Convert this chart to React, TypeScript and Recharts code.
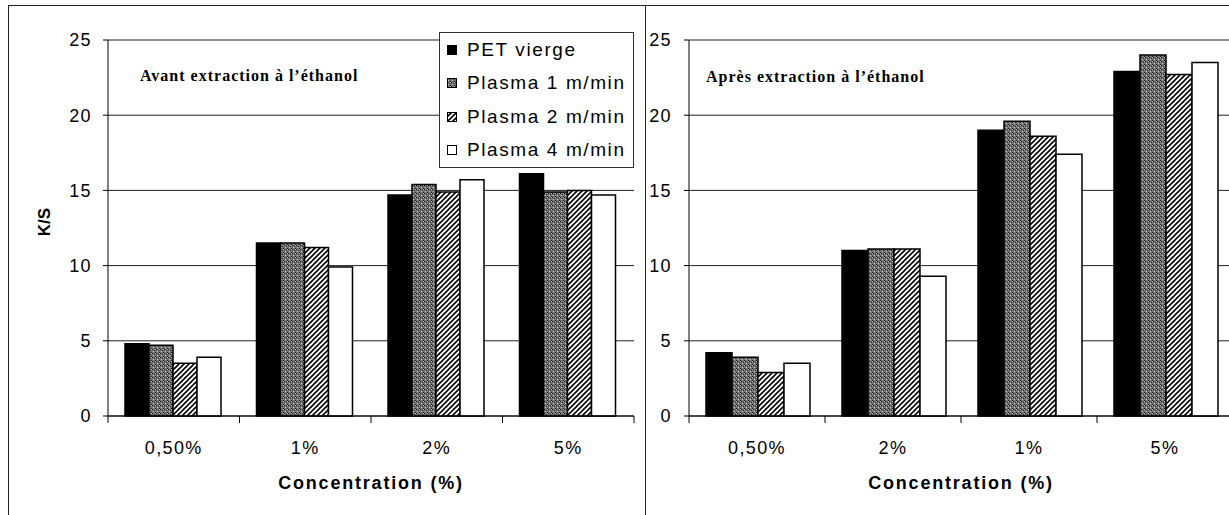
import React from 'react';
import { BarChart, Bar, XAxis, YAxis, CartesianGrid, Legend } from 'recharts';

const categoriesBefore = ['0,50%', '1%', '2%', '5%'];
const petBefore = [4.8, 11.5, 14.7, 16.1];
const plasma1Before = [4.7, 11.5, 15.4, 14.9];
const plasma2Before = [3.5, 11.2, 14.9, 15.0];
const plasma4Before = [3.9, 9.9, 15.7, 14.7];

const categoriesAfter = ['0,50%', '2%', '1%', '5%'];
const petAfter = [4.2, 11.0, 19.0, 22.9];
const plasma1After = [3.9, 11.1, 19.6, 24.0];
const plasma2After = [2.9, 11.1, 18.6, 22.7];
const plasma4After = [3.5, 9.3, 17.4, 23.5];

const yTicks = [0, 5, 10, 15, 20, 25];
const seriesNames = ['PET vierge', 'Plasma 1 m/min', 'Plasma 2 m/min', 'Plasma 4 m/min'];
const seriesKeys = ['pet', 'p1', 'p2', 'p4'];
const seriesFills = ['#000000', 'url(#stipple)', 'url(#hatch)', '#ffffff'];

const buildRows = (cats: string[], a: number[], b: number[], c: number[], d: number[]) =>
  cats.map((cat, i) => ({ cat, pet: a[i], p1: b[i], p2: c[i], p4: d[i] }));

const rowsBefore = buildRows(categoriesBefore, petBefore, plasma1Before, plasma2Before, plasma4Before);
const rowsAfter = buildRows(categoriesAfter, petAfter, plasma1After, plasma2After, plasma4After);

const SANS = '"Liberation Sans", Arial, sans-serif';
const SERIF = '"Liberation Serif", "Times New Roman", serif';

const makeXTick = (bandWidth: number, count: number) => (props: any) => {
  const { x, y, payload, index } = props;
  const half = bandWidth / 2;
  return (
    <g>
      <line x1={x - half} y1={y} x2={x - half} y2={y + 7} stroke="#000" strokeWidth={1} />
      {index === count - 1 && (
        <line x1={x + half} y1={y} x2={x + half} y2={y + 7} stroke="#000" strokeWidth={1} />
      )}
      <text x={x} y={y + 38} textAnchor="middle" fontFamily={SANS} fontSize={18} letterSpacing={1.4} fill="#000">
        {payload.value}
      </text>
    </g>
  );
};

const LegendBox = () => (
  <div
    style={{
      background: '#fff',
      border: '1px solid #333',
      width: 195,
      height: 136,
      boxSizing: 'border-box',
      paddingLeft: 7,
      fontFamily: SANS,
      fontSize: 19,
      letterSpacing: 1.6,
      color: '#000',
    }}
  >
    {seriesNames.map((n, i) => (
      <div key={n} style={{ height: 33.5, display: 'flex', alignItems: 'center', whiteSpace: 'nowrap' }}>
        <svg width={10} height={10} style={{ marginRight: 10, flex: 'none' }}>
          <rect x={0.5} y={0.5} width={9} height={9} fill={seriesFills[i]} stroke="#000" strokeWidth={1} />
        </svg>
        <span>{n}</span>
      </div>
    ))}
  </div>
);

const yTickStyle = { fontFamily: SANS, fontSize: 18, fill: '#000', letterSpacing: 1.4 };

const Panel = ({
  rows,
  width,
  marginLeft,
  yWidth,
  marginRight,
  tickMargin,
  withLegend,
}: any) => {
  const plotWidth = width - marginLeft - yWidth - marginRight;
  const band = plotWidth / rows.length;
  return (
    <BarChart
      width={width}
      height={510}
      data={rows}
      margin={{ top: 35, right: marginRight, bottom: 19, left: marginLeft }}
      barCategoryGap={17}
      barGap={0}
    >
      <CartesianGrid vertical={false} stroke="#222" strokeWidth={1} />
      <XAxis
        dataKey="cat"
        height={80}
        tickLine={false}
        tickSize={0}
        tickMargin={0}
        axisLine={{ stroke: '#000', strokeWidth: 1 }}
        tick={makeXTick(band, rows.length)}
        interval={0}
        label={{
          value: 'Concentration (%)',
          position: 'insideBottom',
          offset: 7,
          style: { fontFamily: SANS, fontSize: 18, fontWeight: 'bold', fill: '#000', letterSpacing: 1.8 },
        }}
      />
      <YAxis
        width={yWidth}
        domain={[0, 25]}
        ticks={yTicks}
        interval={0}
        tickSize={5}
        tickMargin={tickMargin}
        axisLine={{ stroke: '#000', strokeWidth: 1 }}
        tickLine={{ stroke: '#000', strokeWidth: 1 }}
        tick={yTickStyle}
      />
      {withLegend && (
        <Legend
          layout="vertical"
          align="center"
          verticalAlign="middle"
          content={() => <LegendBox />}
          wrapperStyle={{ left: 431, top: 27, width: 195, height: 136 }}
        />
      )}
      {seriesKeys.map((k, i) => (
        <Bar
          key={k}
          dataKey={k}
          name={seriesNames[i]}
          fill={seriesFills[i]}
          stroke="#000"
          strokeWidth={1.5}
          isAnimationActive={false}
        />
      ))}
    </BarChart>
  );
};

export default function App() {
  return (
    <div
      style={{
        position: 'absolute',
        left: 0,
        top: 0,
        width: 1229,
        height: 515,
        overflow: 'hidden',
        background: '#fff',
      }}
    >
      <svg width={0} height={0} style={{ position: 'absolute' }}>
        <defs>
          <pattern id="stipple" width={4} height={4} patternUnits="userSpaceOnUse">
            <rect width={4} height={4} fill="#747474" />
            <rect x={0} y={0} width={1} height={1} fill="#1a1a1a" />
            <rect x={2} y={1} width={1} height={1} fill="#2a2a2a" />
            <rect x={3} y={3} width={1} height={1} fill="#1a1a1a" />
            <rect x={1} y={2} width={1} height={1} fill="#c8c8c8" />
            <rect x={3} y={0} width={1} height={1} fill="#b0b0b0" />
          </pattern>
          <pattern id="hatch" width={5} height={5} patternUnits="userSpaceOnUse">
            <rect width={5} height={5} fill="#fff" />
            <path d="M-1,1 L1,-1 M0,5 L5,0 M4,6 L6,4" stroke="#000" strokeWidth={1.6} />
          </pattern>
        </defs>
      </svg>

      <div
        style={{
          position: 'absolute',
          left: 8,
          top: 5,
          width: 638,
          height: 530,
          border: '1px solid #222',
          boxSizing: 'border-box',
        }}
      />
      <div
        style={{
          position: 'absolute',
          left: 645,
          top: 5,
          width: 700,
          height: 530,
          border: '1px solid #222',
          boxSizing: 'border-box',
        }}
      />

      <div style={{ position: 'absolute', left: 8, top: 5 }}>
        <Panel rows={rowsBefore} width={637} marginLeft={30} yWidth={70} marginRight={11} tickMargin={11} withLegend />
      </div>
      <div style={{ position: 'absolute', left: 645, top: 5 }}>
        <Panel rows={rowsAfter} width={600} marginLeft={0} yWidth={44} marginRight={12} tickMargin={12} withLegend={false} />
      </div>

      <div
        style={{
          position: 'absolute',
          left: 45,
          top: 222,
          transform: 'translate(-50%, -50%) rotate(-90deg)',
          fontFamily: SANS,
          fontSize: 17,
          fontWeight: 'bold',
          color: '#000',
          whiteSpace: 'nowrap',
        }}
      >
        K/S
      </div>
      <div
        style={{
          position: 'absolute',
          left: 140,
          top: 67,
          fontFamily: SERIF,
          fontSize: 16,
          fontWeight: 'bold',
          letterSpacing: 1,
          color: '#000',
          whiteSpace: 'nowrap',
          lineHeight: '18px',
        }}
      >
        Avant extraction à l’éthanol
      </div>
      <div
        style={{
          position: 'absolute',
          left: 706,
          top: 68,
          fontFamily: SERIF,
          fontSize: 16,
          fontWeight: 'bold',
          letterSpacing: 1,
          color: '#000',
          whiteSpace: 'nowrap',
          lineHeight: '18px',
        }}
      >
        Après extraction à l’éthanol
      </div>
    </div>
  );
}
